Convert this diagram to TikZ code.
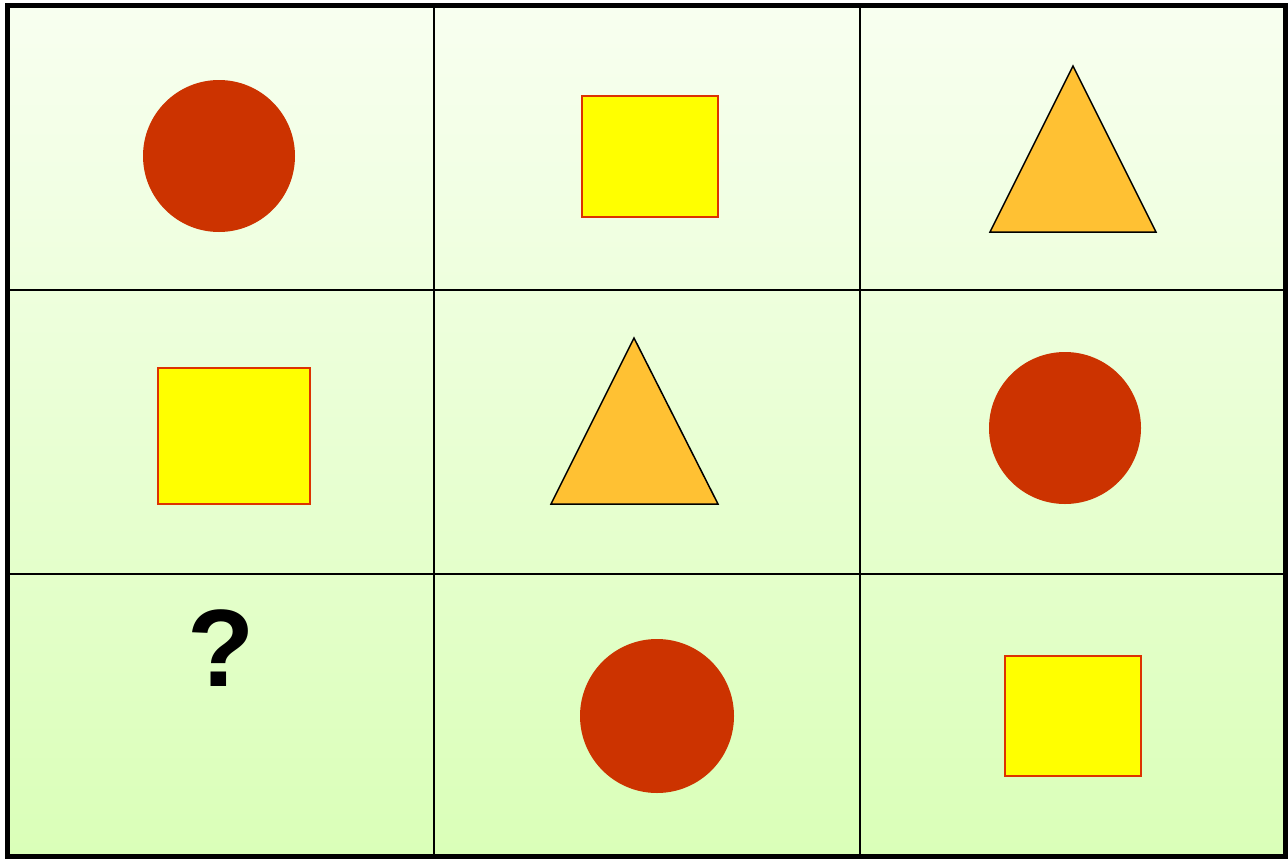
\documentclass[tikz,border=0pt]{standalone}
\usepackage{fontspec}
\setmainfont{Liberation Sans}
\definecolor{topg}{HTML}{F8FFF0}
\definecolor{botg}{HTML}{DAFFB8}
\definecolor{circ}{HTML}{CC3300}
\definecolor{sqfill}{HTML}{FFFF00}
\definecolor{sqedge}{HTML}{DD3300}
\definecolor{trifill}{HTML}{FFC133}
\tikzset{
  dot/.style={fill=circ, draw=none},
  sq/.style={fill=sqfill, draw=sqedge, line width=1.5pt},
  tri/.style={fill=trifill, draw=black, line width=1.5pt, line join=miter},
  grid/.style={draw=black, line width=2.5pt},
  frame/.style={draw=black, line width=5pt},
}
\begin{document}
\begin{tikzpicture}[x=1pt,y=-1pt]
\useasboundingbox (0,0) rectangle (1288,860);
\shade[top color=topg, bottom color=botg] (7,5.5) rectangle (1285.5,856.5);
% grid
\draw[grid] (434,5.5) -- (434,856.5);
\draw[grid] (860,5.5) -- (860,856.5);
\draw[grid] (7,290) -- (1285.5,290);
\draw[grid] (7,574) -- (1285.5,574);
\draw[frame] (7,5.5) rectangle (1285.5,856.5);
% row 1
\fill[dot] (219,156) circle (76);
\draw[sq] (582,96) rectangle (718,217);
\draw[tri] (1073,66) -- (1156,232) -- (990,232) -- cycle;
% row 2
\draw[sq] (158,368) rectangle (310,504);
\draw[tri] (634,338) -- (718,504) -- (551,504) -- cycle;
\fill[dot] (1065,428) circle (76);
% row 3
\node[anchor=base, inner sep=0pt, font=\bfseries\fontsize{110}{110}\selectfont] (q) at (221,686) {?};
\fill[dot] (657,716) circle (77);
\draw[sq] (1005,656) rectangle (1141,776);
\end{tikzpicture}
\end{document}
